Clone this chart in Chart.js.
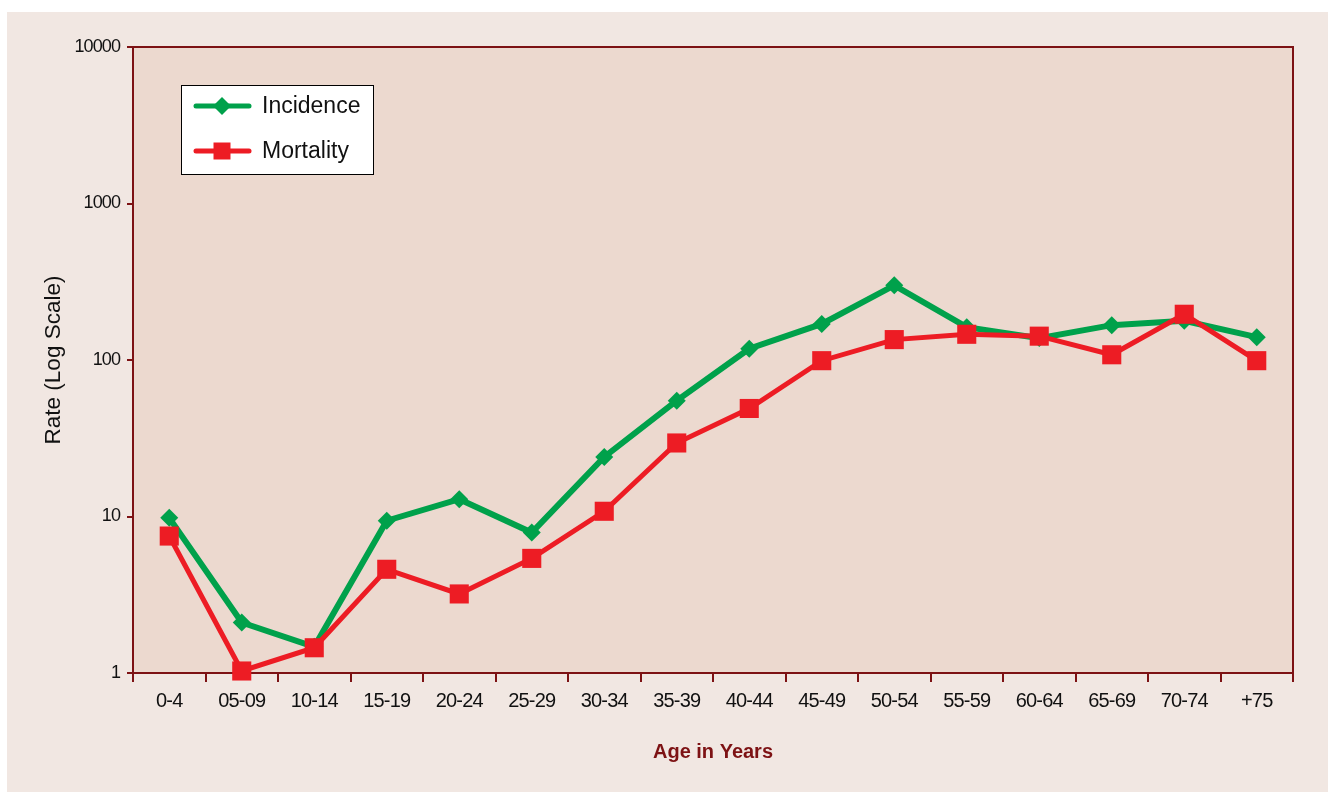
<!DOCTYPE html>
<html>
<head>
<meta charset="utf-8">
<script src="https://cdn.jsdelivr.net/npm/chart.js@4.4.0/dist/chart.umd.min.js"></script>
<style>
  html, body { margin: 0; padding: 0; background: #ffffff; }
  #wrap { position: absolute; left: 0; top: 0; width: 1328px; height: 792px; }
</style>
</head>
<body>
<div id="wrap"><canvas id="c" width="1328" height="792"></canvas></div>
<script>
const categories = ['0-4','05-09','10-14','15-19','20-24','25-29','30-34','35-39','40-44','45-49','50-54','55-59','60-64','65-69','70-74','+75'];
const incidence = [9.8, 2.1, 1.47, 9.4, 12.9, 7.9, 24, 55, 118, 170, 300, 162, 138, 167, 178, 140];
const mortality = [7.5, 1.03, 1.45, 4.6, 3.2, 5.4, 10.8, 29.5, 49, 99, 135, 146, 142, 108, 196, 99];
const yTicks = [1, 10, 100, 1000, 10000];
const seriesNames = ['Incidence', 'Mortality'];

const AXIS = '#7d1214';
const GREEN = '#00a14b';
const RED = '#ed1c24';
const SANS = "'Liberation Sans', Arial, Helvetica, sans-serif";
const TICK_SPACING = { x: '-0.8px', y: '-0.9px' };

const bgPlugin = {
  id: 'bg',
  beforeDraw(chart) {
    const {ctx, chartArea: a} = chart;
    ctx.save();
    ctx.fillStyle = '#ffffff';
    ctx.fillRect(0, 0, chart.width, chart.height);
    ctx.fillStyle = '#f1e7e2';
    ctx.fillRect(7, 12, chart.width - 7, chart.height - 12);
    ctx.fillStyle = '#ecd9cf';
    ctx.fillRect(a.left, a.top, a.right - a.left, a.bottom - a.top);
    ctx.restore();
  },
  beforeDatasetsDraw(chart) {
    const {ctx, chartArea: a} = chart;
    ctx.save();
    ctx.strokeStyle = AXIS;
    ctx.lineWidth = 2;
    ctx.beginPath();
    ctx.moveTo(a.left, a.top);
    ctx.lineTo(a.right, a.top);
    ctx.lineTo(a.right, a.bottom);
    ctx.stroke();
    ctx.restore();
  }
};

// slightly condensed look for tick labels (no narrow font installed)
const condensePlugin = {
  id: 'condense',
  afterLayout(chart) {
    Object.values(chart.scales).forEach(s => {
      if (s._condensed) return;
      const orig = s.drawLabels.bind(s);
      const sp = TICK_SPACING[s.id] || '0px';
      s.drawLabels = function (area) {
        const c = this.ctx;
        const prev = c.letterSpacing;
        c.letterSpacing = sp;
        orig(area);
        c.letterSpacing = prev || '0px';
      };
      s._condensed = true;
    });
  }
};

const legendPlugin = {
  id: 'boxLegend',
  afterDraw(chart) {
    const ctx = chart.ctx;
    const bx = 181, by = 85, bw = 192, bh = 89;
    ctx.save();
    ctx.letterSpacing = '0px';
    ctx.fillStyle = '#ffffff';
    ctx.fillRect(bx, by, bw, bh);
    ctx.strokeStyle = '#000000';
    ctx.lineWidth = 1;
    ctx.strokeRect(bx + 0.5, by + 0.5, bw, bh);
    chart.data.datasets.forEach((ds, i) => {
      const y = 106 + i * 45;
      ctx.strokeStyle = ds.borderColor;
      ctx.lineWidth = 5;
      ctx.lineCap = 'round';
      ctx.beginPath();
      ctx.moveTo(196, y);
      ctx.lineTo(249, y);
      ctx.stroke();
      ctx.fillStyle = ds.borderColor;
      const cx = 222;
      ctx.beginPath();
      if (ds.pointStyle === 'rectRot') {
        const r = 9;
        ctx.moveTo(cx - r, y); ctx.lineTo(cx, y - r); ctx.lineTo(cx + r, y); ctx.lineTo(cx, y + r);
        ctx.closePath();
      } else {
        const s = 8.5;
        ctx.rect(cx - s, y - s, 2 * s, 2 * s);
      }
      ctx.fill();
      ctx.fillStyle = '#111111';
      ctx.font = '23px ' + SANS;
      ctx.textBaseline = 'middle';
      ctx.textAlign = 'left';
      ctx.fillText(ds.label, 262, y + 1);
    });
    ctx.restore();
  }
};

new Chart(document.getElementById('c'), {
  type: 'line',
  data: {
    labels: categories,
    datasets: [
      {
        label: seriesNames[0],
        data: incidence,
        borderColor: GREEN,
        backgroundColor: GREEN,
        borderWidth: 6,
        pointStyle: 'rectRot',
        pointRadius: 9,
        pointHoverRadius: 9,
        pointBorderWidth: 0,
        tension: 0,
        clip: false,
        order: 1
      },
      {
        label: seriesNames[1],
        data: mortality,
        borderColor: RED,
        backgroundColor: RED,
        borderWidth: 5,
        pointStyle: 'rect',
        pointRadius: 13.5,
        pointHoverRadius: 13.5,
        pointBorderWidth: 0,
        tension: 0,
        clip: false,
        order: 0
      }
    ]
  },
  options: {
    responsive: false,
    animation: false,
    devicePixelRatio: 1,
    layout: { padding: { top: 47, right: 35, left: 0, bottom: 0 } },
    plugins: {
      legend: { display: false },
      tooltip: { enabled: false },
      title: { display: false }
    },
    scales: {
      x: {
        type: 'category',
        offset: true,
        afterFit(scale) { scale.height = 119; },
        grid: {
          offset: true,
          drawOnChartArea: false,
          drawTicks: true,
          tickLength: 9,
          color: AXIS,
          lineWidth: 2
        },
        border: { display: true, color: AXIS, width: 2 },
        ticks: {
          color: '#111111',
          font: { family: SANS, size: 20 },
          padding: 7,
          maxRotation: 0,
          autoSkip: false
        },
        title: {
          display: true,
          text: 'Age in Years',
          color: AXIS,
          font: { family: SANS, size: 20, weight: 'bold' },
          padding: { top: 0, bottom: 28 }
        }
      },
      y: {
        type: 'logarithmic',
        min: 1,
        max: 10000,
        afterFit(scale) { scale.width = 133; },
        afterBuildTicks(scale) { scale.ticks = yTicks.map(v => ({ value: v, major: true })); },
        grid: {
          drawOnChartArea: false,
          drawTicks: true,
          tickLength: 6,
          color: AXIS,
          lineWidth: 2
        },
        border: { display: true, color: AXIS, width: 2 },
        ticks: {
          color: '#111111',
          font: { family: SANS, size: 18 },
          padding: 7,
          autoSkip: false,
          callback: (v) => String(v)
        },
        title: {
          display: true,
          text: 'Rate (Log Scale)',
          color: '#111111',
          font: { family: SANS, size: 22.5 },
          padding: { top: 40, bottom: 0 }
        }
      }
    }
  },
  plugins: [bgPlugin, condensePlugin, legendPlugin]
});
</script>
</body>
</html>
